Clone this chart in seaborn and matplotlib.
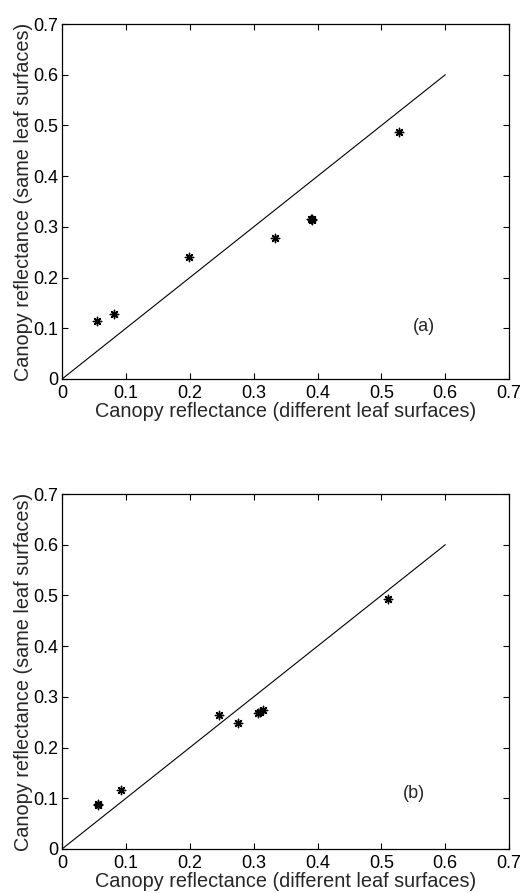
import numpy as np
import pandas as pd
import matplotlib
matplotlib.use("Agg")
import matplotlib.pyplot as plt
import seaborn as sns

# valeurs
x_a = [0.055, 0.081, 0.198, 0.333, 0.389, 0.391, 0.392, 0.528]
y_a = [0.114, 0.128, 0.241, 0.279, 0.316, 0.314, 0.316, 0.488]

x_b = [0.056, 0.057, 0.092, 0.246, 0.275, 0.307, 0.310, 0.315, 0.511]
y_b = [0.087, 0.089, 0.116, 0.265, 0.249, 0.268, 0.271, 0.275, 0.493]

line_x = [0.0, 0.6]
line_y = [0.0, 0.6]

ticks = [0, 0.1, 0.2, 0.3, 0.4, 0.5, 0.6, 0.7]
tick_labels = ["0", "0.1", "0.2", "0.3", "0.4", "0.5", "0.6", "0.7"]

panel_labels = ["(a)", "(b)"]
panel_label_pos = [(0.550, 0.103), (0.534, 0.110)]

sns.set_style("white")
plt.rcParams['font.family'] = ['Liberation Sans', 'DejaVu Sans']

fig = plt.figure(figsize=(5.26, 8.93), dpi=100)
ax_a = fig.add_axes([0.118, 0.5756, 0.850, 0.3975])
ax_b = fig.add_axes([0.118, 0.0493, 0.850, 0.3975])

for ax, xs, ys, lab, pos in zip([ax_a, ax_b], [x_a, x_b], [y_a, y_b],
                                panel_labels, panel_label_pos):
    df = pd.DataFrame({"diff": xs, "same": ys})
    sns.lineplot(x=line_x, y=line_y, ax=ax, color="black", linewidth=0.8)
    sns.scatterplot(data=df, x="diff", y="same", ax=ax, marker=(8, 2, 0),
                    color="black", s=36, linewidth=1.0, edgecolor="black")
    ax.set_xlim(0, 0.7)
    ax.set_ylim(0, 0.7)
    ax.set_xticks(ticks)
    ax.set_yticks(ticks)
    ax.set_xticklabels(tick_labels, fontsize=13)
    ax.set_yticklabels(tick_labels, fontsize=13)
    ax.tick_params(direction="in", length=4, width=0.8, top=True, right=True,
                   bottom=True, left=True, colors="black")
    ax.tick_params(axis="x", pad=4)
    ax.tick_params(axis="y", pad=3)
    for sp in ax.spines.values():
        sp.set_visible(True)
        sp.set_color("black")
        sp.set_linewidth(0.9)
    ax.set_xlabel("Canopy reflectance (different leaf surfaces)", fontsize=14.3, labelpad=0)
    ax.set_ylabel("Canopy reflectance (same leaf surfaces)", fontsize=14.3, labelpad=0)
    ax.text(pos[0], pos[1], lab, fontsize=13, ha="left", va="center")

fig.savefig("out.png", dpi=100)
